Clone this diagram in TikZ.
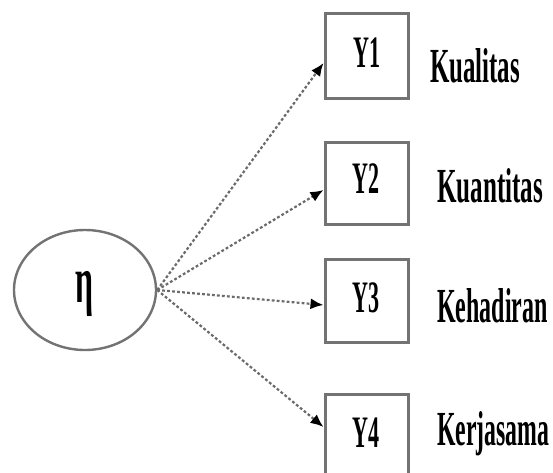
\documentclass[tikz,border=0pt]{standalone}
\usepackage{fontspec}
\setmainfont{Liberation Serif}
\usetikzlibrary{arrows.meta,calc,shapes.geometric}
\begin{document}
\begin{tikzpicture}[x=1pt,y=1pt,
  boxnode/.style={draw=black!55,line width=3pt,minimum width=83pt,inner sep=0pt},
  ynode/.style={anchor=base west,inner sep=0pt,font=\fontsize{45}{45}\selectfont\bfseries},
  lblnode/.style={anchor=base west,inner sep=0pt,font=\fontsize{49}{49}\selectfont\bfseries},
  link/.style={draw=black!58,line width=2.2pt,dash pattern=on 2.8pt off 2.2pt,
    -{Latex[length=13pt,width=11pt,color=black]}}]
\clip (0,0) rectangle (553,472);
\useasboundingbox (0,0) rectangle (553,472);
\node[draw=black!55,line width=2.4pt,ellipse,minimum width=142pt,minimum height=120pt,inner sep=0pt] (eta) at (85,182) {};
\node[anchor=base,inner sep=0pt,font=\fontsize{66}{66}\selectfont\bfseries] (etat) at (84,170) {\scalebox{0.48}[1]{η}};
\node[boxnode,minimum height=85pt] (Y1) at (366.5,415.5) {};
\node[boxnode,minimum height=82pt] (Y2) at (366.5,289) {};
\node[boxnode,minimum height=83pt] (Y3) at (366.5,171.5) {};
\node[boxnode,minimum height=85pt] (Y4) at (366.5,35.5) {};
\node[ynode] (t1) at (353,404) {\scalebox{0.49}[1]{Y1}};
\node[ynode] (t2) at (352,279) {\scalebox{0.49}[1]{Y2}};
\node[ynode] (t3) at (352,160) {\scalebox{0.49}[1]{Y3}};
\node[ynode] (t4) at (352,25) {\scalebox{0.49}[1]{Y4}};
\node[lblnode] (l1) at (430,389) {\scalebox{0.508}[1]{Kualitas}};
\node[lblnode] (l2) at (437,270) {\scalebox{0.512}[1]{Kuantitas}};
\node[lblnode] (l3) at (437,150) {\scalebox{0.49}[1]{Kehadiran}};
\node[lblnode] (l4) at (437,27) {\scalebox{0.485}[1]{Kerjasama}};
\coordinate (src) at (eta.east);
\draw[link] (src) -- ($(Y1.west)+(0,-6.5)$);
\draw[link] (src) -- ($(Y2.west)+(0,-7)$);
\draw[link] (src) -- ($(Y3.west)+(0,-4.5)$);
\draw[link] (src) -- ($(Y4.west)+(0,9.5)$);
\end{tikzpicture}
\end{document}
